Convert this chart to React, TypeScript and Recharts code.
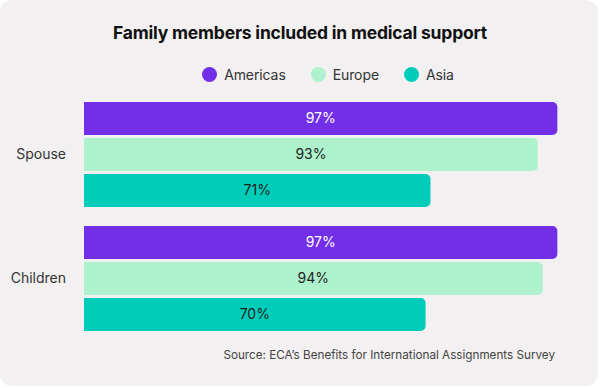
import { Bar, BarChart, LabelList, XAxis, YAxis } from "recharts"

const categories = ["Spouse", "Children"]
const americas = [97, 97]
const europe = [93, 94]
const asia = [71, 70]

const SERIES = [
    { key: "americas", name: "Americas", color: "#732ee8", labelColor: "#ffffff" },
    { key: "europe", name: "Europe", color: "#aef2cd", labelColor: "#1e1e1e" },
    { key: "asia", name: "Asia", color: "#00cdb9", labelColor: "#1e1e1e" },
]

const data = categories.map((name, i) => ({
    name,
    americas: americas[i],
    europe: europe[i],
    asia: asia[i],
}))

const FONT = "Inter, 'Noto Sans', sans-serif"

export default function App() {
    return (
        <div style={{ position: "absolute", left: 0, top: 0, width: 600, height: 388, background: "#ffffff", fontFamily: FONT }}>
            <div style={{ position: "absolute", left: 0, top: 0, width: 598, height: 386, background: "#f2f0f1", borderRadius: 12 }} />
            <div style={{ position: "absolute", left: 0, top: 22, width: 600, textAlign: "center", fontSize: 17.5, fontWeight: 700, color: "#111", letterSpacing: -0.2 }}>
                Family members included in medical support
            </div>
            {/* legend centred over the plot area, not the whole card */}
            <div style={{ position: "absolute", left: 84, top: 66, width: 488, display: "flex", justifyContent: "center", gap: 25, fontSize: 14, color: "#333" }}>
                {SERIES.map((s) => (
                    <div key={s.key} style={{ display: "flex", alignItems: "center", gap: 7 }}>
                        <span style={{ width: 15, height: 15, borderRadius: "50%", background: s.color, display: "inline-block" }} />
                        <span style={{ letterSpacing: -0.1 }}>{s.name}</span>
                    </div>
                ))}
            </div>
            <div style={{ position: "absolute", left: 0, top: 0 }}>
                <BarChart
                    width={600}
                    height={388}
                    data={data}
                    layout="vertical"
                    margin={{ top: 92, right: 28, bottom: 48, left: 0 }}
                    barCategoryGap={10}
                    barGap={3}
                >
                    <XAxis type="number" domain={[0, 100]} hide />
                    <YAxis
                        type="category"
                        dataKey="name"
                        width={84}
                        axisLine={false}
                        tickLine={false}
                        tickSize={0}
                        tickMargin={18}
                        tick={{ fill: "#333", fontSize: 14, fontFamily: FONT }}
                    />
                    {SERIES.map((s) => (
                        <Bar key={s.key} dataKey={s.key} name={s.name} fill={s.color} radius={[0, 5, 5, 0]} isAnimationActive={false}>
                            <LabelList
                                dataKey={s.key}
                                position="center"
                                fill={s.labelColor}
                                fontSize={14}
                                fontFamily={FONT}
                                formatter={(v: any) => `${v}%`}
                            />
                        </Bar>
                    ))}
                </BarChart>
            </div>
            <div style={{ position: "absolute", right: 45, top: 348, fontSize: 11.7, color: "#444" }}>
                Source: ECA’s Benefits for International Assignments Survey
            </div>
        </div>
    )
}
